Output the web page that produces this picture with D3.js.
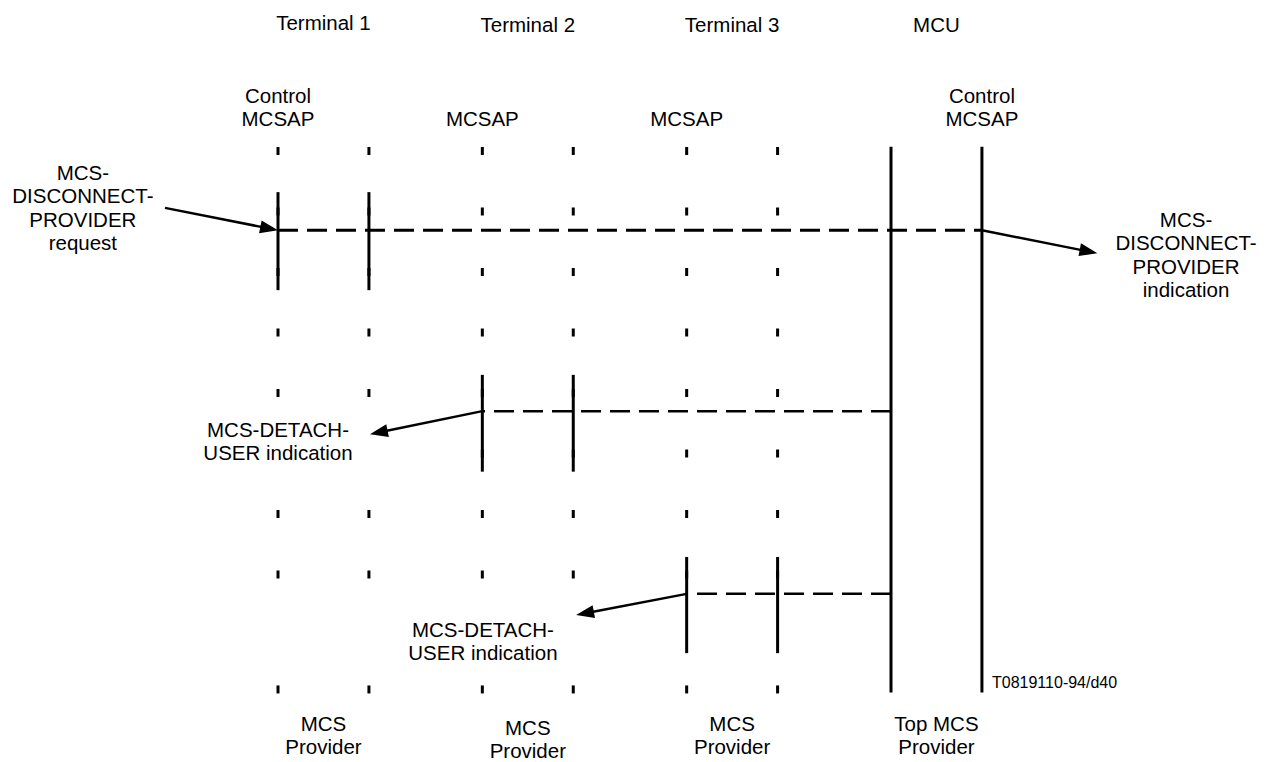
<!DOCTYPE html>
<html><head><meta charset="utf-8">
<script src="https://cdn.jsdelivr.net/npm/d3@7"></script>
<style>html,body{margin:0;padding:0;background:#fff;} svg{display:block;}</style>
</head><body><svg id="c" width="1269" height="762"></svg>
<script>
// ---------- data ----------
const entities = ["Terminal 1", "Terminal 2", "Terminal 3", "MCU"];
const sapLabels = [["Control", "MCSAP"], ["MCSAP"], ["MCSAP"], ["Control", "MCSAP"]];
const sapSide = [0, 0, 0, 1];
const providerLabels = [["MCS", "Provider"], ["MCS", "Provider"], ["MCS", "Provider"], ["Top MCS", "Provider"]];
const tickTimes = [0, 1, 2, 3, 4, 5, 6, 7, 8.9];
const skippedTicks = [[5], [], [], []];
const activations = [[0.68, 2.3], [3.7, 5.3], [6.71, 8.3], [-0.07, 8.95]];
const hasTicks = [true, true, true, false];
// dashed primitive flows: [column, side] -> [column, side] at a time
const flows = [
  { from: [0, 0], to: [3, 1], time: 1.31, width: 3 },
  { from: [3, 0], to: [1, 0], time: 4.3, width: 2.5 },
  { from: [3, 0], to: [2, 0], time: 7.32, width: 2.5 }
];
// arrows in (column units, time units)
const arrows = [
  { from: [-0.553, 0.94], to: [0, 1.31] },
  { from: [3 + 0.445, 1.31], to: [4.01, 1.69] },
  { from: [1, 4.3], to: [0.45, 4.68] },
  { from: [2, 7.32], to: [1.459, 7.67] }
];
const primitiveLabels = [
  { lines: ["MCS-", "DISCONNECT-", "PROVIDER", "request"], col: -0.955, time: 0.48 },
  { lines: ["MCS-", "DISCONNECT-", "PROVIDER", "indication"], col: 4.444, time: 1.256 },
  { lines: ["MCS-DETACH-", "USER indication"], col: 0, time: 4.727 },
  { lines: ["MCS-DETACH-", "USER indication"], col: 1.003, time: 8.03 }
];
const figureTag = "T0819110-94/d40";

// ---------- scales ----------
const svg = d3.select("#c");
const xCol = d3.scaleLinear().domain([0, 3]).range([278, 891]);
const yT = d3.scaleLinear().domain([0, 1]).range([151, 211.5]);
const pair = 0.445; // second lifeline offset in column units
const X = (c, s) => xCol(c + s * pair);
const font = "'Liberation Sans', Arial, Helvetica, sans-serif";
const FS = 20.5, LH = 23.3;

// ---------- lifeline ticks ----------
entities.forEach((e, i) => {
  if (!hasTicks[i]) return;
  [0, 1].forEach(s => {
    svg.append("g").selectAll("rect")
      .data(tickTimes.filter(t => !skippedTicks[i].includes(t)))
      .join("rect")
      .attr("x", X(i, s) - 1.5).attr("width", 3)
      .attr("y", t => yT(t) - 4).attr("height", 8)
      .attr("fill", "#000");
  });
});

// ---------- activation bars ----------
activations.forEach((a, i) => {
  [0, 1].forEach(s => {
    svg.append("line")
      .attr("x1", X(i, s)).attr("x2", X(i, s))
      .attr("y1", yT(a[0])).attr("y2", yT(a[1]))
      .attr("stroke", "#000").attr("stroke-width", 3);
  });
});

// ---------- dashed flows ----------
flows.forEach(f => {
  svg.append("line")
    .attr("x1", X(f.from[0], f.from[1])).attr("x2", X(f.to[0], f.to[1]))
    .attr("y1", yT(f.time)).attr("y2", yT(f.time))
    .attr("stroke", "#000").attr("stroke-width", f.width)
    .attr("stroke-dasharray", "20,9");
});

// ---------- arrows ----------
arrows.forEach(a => {
  const x0 = xCol(a.from[0]), y0 = yT(a.from[1]);
  const x1 = xCol(a.to[0]), y1 = yT(a.to[1]);
  const dx = x1 - x0, dy = y1 - y0, len = Math.hypot(dx, dy);
  const ux = dx / len, uy = dy / len;
  const L = 18, W = 6.5;
  const bx = x1 - ux * L, by = y1 - uy * L;
  svg.append("line")
    .attr("x1", x0).attr("y1", y0).attr("x2", bx + ux * 2).attr("y2", by + uy * 2)
    .attr("stroke", "#000").attr("stroke-width", 2.5);
  svg.append("path")
    .attr("d", d3.line()([[x1, y1], [bx - uy * W, by + ux * W], [bx + uy * W, by - ux * W]]) + "Z")
    .attr("fill", "#000");
});

// ---------- text ----------
function block(x, y, lines, size) {
  const t = svg.append("text")
    .attr("x", x).attr("y", y)
    .attr("text-anchor", "middle")
    .attr("font-family", font).attr("font-size", size || FS)
    .attr("fill", "#000");
  lines.forEach((l, k) => t.append("tspan").attr("x", x).attr("dy", k === 0 ? 0 : LH).text(l));
}

const headerBase = [30, 32, 32, 32];
entities.forEach((e, i) => block(X(i, 0.5), headerBase[i], [e]));
sapLabels.forEach((lines, i) => block(X(i, sapSide[i]), lines.length === 2 ? 103 : 126, lines));
const provBase = [731, 735, 731, 731];
providerLabels.forEach((lines, i) => block(X(i, 0.5), provBase[i], lines));
primitiveLabels.forEach(p => block(xCol(p.col), yT(p.time), p.lines));

svg.append("text").attr("x", 992).attr("y", 688)
  .attr("font-family", font).attr("font-size", 16).attr("fill", "#000")
  .text(figureTag);
</script>
</body></html>
